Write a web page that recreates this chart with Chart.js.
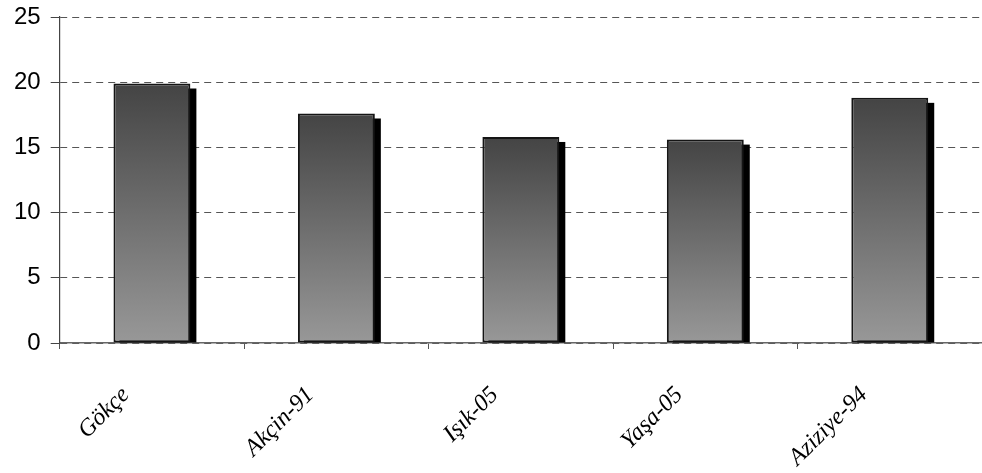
<!DOCTYPE html>
<html>
<head>
<meta charset="utf-8">
<script src="https://cdn.jsdelivr.net/npm/chart.js@4/dist/chart.umd.min.js"></script>
<style>
  html, body { margin: 0; padding: 0; background: #fff; overflow: hidden; }
  #wrap { width: 982px; height: 473px; position: relative; }
</style>
</head>
<body>
<div id="wrap"><canvas id="chart"></canvas></div>
<script>
const categories = ["Gökçe", "Akçin-91", "Işık-05", "Yaşa-05", "Aziziye-94"];
const values = [19.9, 17.6, 15.8, 15.6, 18.8];
const yTicks = [0, 5, 10, 15, 20, 25];

// black drop shadow behind each bar, offset right/down
const barShadow = {
    id: 'barShadow',
    beforeDatasetsDraw(chart){
        const ctx = chart.ctx;
        const meta = chart.getDatasetMeta(0);
        ctx.save();
        ctx.fillStyle = '#000';
        meta.data.forEach((bar) =>{
            const w = bar.width;
            ctx.fillRect(bar.x - w/2 + 6, bar.y + 5, w, bar.base - bar.y - 5);
        });
        ctx.restore();
    }
};

function barGradient(c){
    const chart = c.chart;
    if (!chart.chartArea || !chart.scales.y) return '#6e6e6e';
    const y = chart.scales.y;
    const top = y.getPixelForValue(values[c.dataIndex]);
    const base = y.getPixelForValue(0);
    const g = chart.ctx.createLinearGradient(0, top, 0, base);
    g.addColorStop(0, '#444444');
    g.addColorStop(1, '#989898');
    return g;
}

new Chart(document.getElementById('chart'), {
    type: 'bar',
    data: {
        labels: categories,
        datasets: [{
            data: values,
            backgroundColor: barGradient,
            borderColor: '#151515',
            borderWidth: 2,
            borderSkipped: false,
            categoryPercentage: 1,
            barPercentage: 0.417
        }]
    },
    options: {
        responsive: true,
        maintainAspectRatio: false,
        animation: false,
        layout: { padding: { top: 0, left: 4, right: 0, bottom: 0 } },
        plugins: {
            legend: { display: false },
            tooltip: { enabled: false }
        },
        scales: {
            x: {
                grid: {
                    display: true,
                    drawOnChartArea: false,
                    tickLength: 6,
                    color: '#555'
                },
                border: { display: true, color: '#666', width: 1.5 },
                ticks: {
                    autoSkip: false,
                    minRotation: 45,
                    maxRotation: 45,
                    padding: 32,
                    labelOffset: -26,
                    color: '#000',
                    font: { family: 'Liberation Serif', style: 'italic', size: 24 }
                },
                afterFit(scale){ scale.height = 130; }
            },
            y: {
                min: 0,
                max: 25,
                afterBuildTicks(scale){ scale.ticks = yTicks.map(v => ({value: v})); },
                afterFit(scale){ scale.paddingTop = 17; },
                grid: {
                    color: '#555',
                    lineWidth: 1,
                    tickBorderDash: [],
                    tickColor: '#444',
                    tickLength: 9
                },
                border: { display: true, color: '#444', width: 1.2, dash: [7, 5] },
                ticks: {
                    padding: 10,
                    color: '#000',
                    font: { family: 'Liberation Sans', size: 24 }
                }
            }
        }
    },
    plugins: [barShadow]
});
</script>
</body>
</html>
